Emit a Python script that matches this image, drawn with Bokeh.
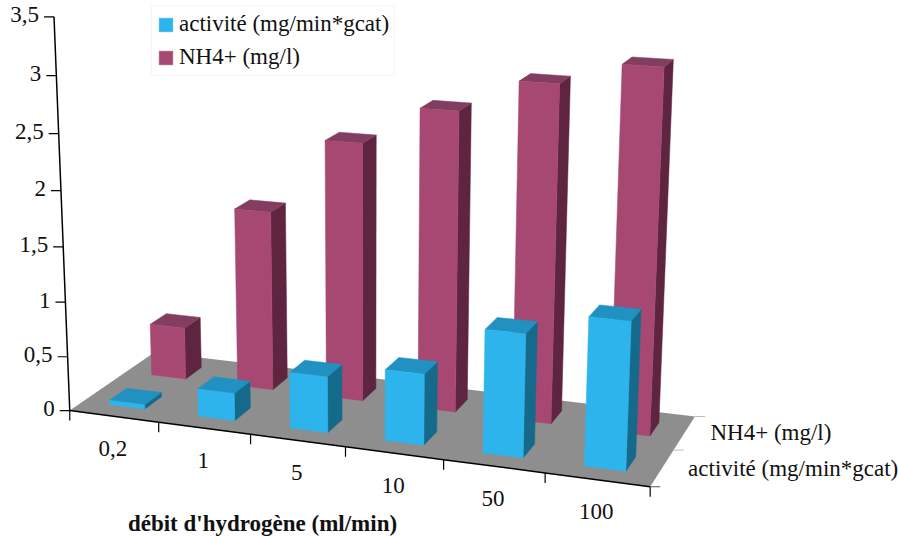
import numpy as np
from bokeh.plotting import figure
from bokeh.models import Range1d, Legend, LegendItem
from bokeh.core.properties import value
from bokeh.embed import file_html
from bokeh.resources import INLINE

categories = ["0,2", "1", "5", "10", "50", "100"]
activite = [0.04, 0.25, 0.505, 0.63, 1.08, 1.28]
nh4 = [0.49, 1.66, 2.35, 2.695, 2.985, 3.18]
series_names = ["activité (mg/min*gcat)", "NH4+ (mg/l)"]
value_ticks = [0, 0.5, 1, 1.5, 2, 2.5, 3, 3.5]
value_labels = ["0", "0,5", "1", "1,5", "2", "2,5", "3", "3,5"]
x_title = "débit d'hydrogène (ml/min)"

FONT = value("Liberation Serif")
SZ = "23px"

# projective camera: floor homography (least squares on reference points)
floor_3d = [(0, 0), (1, 0), (2, 0), (3, 0), (4, 0), (5, 0), (6, 0), (6, 1), (6, 2), (0, 2)]
floor_2d = [(69.5, 409), (158, 421), (250, 435), (345, 447), (443, 460), (545, 472), (650, 486),
            (672, 449), (695, 416), (154, 352)]
A, b = [], []
for (X, Y), (u, v) in zip(floor_3d, floor_2d):
    A.append([X, Y, 1, 0, 0, 0, -u * X, -u * Y]); b.append(u)
    A.append([0, 0, 0, X, Y, 1, -v * X, -v * Y]); b.append(v)
h = np.linalg.lstsq(np.array(A, float), np.array(b, float), rcond=None)[0]
H = np.array([[h[0], h[1], h[2]], [h[3], h[4], h[5]], [h[6], h[7], 1.0]])
VP = np.array([365.0, 7800.0, 1.0])
K = -0.01445


def proj(X, Y, val=0.0):
    p = H @ np.array([X, Y, 1.0]) + val * K * VP
    return p[0] / p[2], p[1] / p[2]


def poly(*pts):
    c = [proj(*q) for q in pts]
    return [q[0] for q in c], [q[1] for q in c]


p = figure(width=898, height=536, x_range=Range1d(0, 898), y_range=Range1d(536, 0),
           output_backend="svg", toolbar_location=None, min_border=0,
           x_axis_location=None, y_axis_location=None)
p.outline_line_color = None
p.grid.visible = False
p.background_fill_color = "white"

# floor
fx, fy = poly((0, 0), (6, 0), (6, 2), (0, 2))
p.patch(fx, fy, fill_color="#8E8E8E", line_color=None)

BAR = 0.2  # half-width of a bar in a unit cell


def bars(vals, depth, front_c, top_c, side_c):
    front = None
    for i, v in enumerate(vals):
        x0, x1 = i + 0.5 - BAR, i + 0.5 + BAR
        y0, y1 = depth + 0.5 - BAR, depth + 0.5 + BAR
        sx, sy = poly((x1, y0, 0), (x1, y1, 0), (x1, y1, v), (x1, y0, v))
        p.patch(sx, sy, fill_color=side_c, line_color=side_c, line_width=0.5)
        tx, ty = poly((x0, y0, v), (x1, y0, v), (x1, y1, v), (x0, y1, v))
        p.patch(tx, ty, fill_color=top_c, line_color=top_c, line_width=0.5)
        ax, ay = poly((x0, y0, 0), (x1, y0, 0), (x1, y0, v), (x0, y0, v))
        r = p.patch(ax, ay, fill_color=front_c, line_color=front_c, line_width=0.5)
        front = front or r
    return front


r_nh4 = bars(nh4, 1, "#A64872", "#823D60", "#5E2440")
r_act = bars(activite, 0, "#2EB4EC", "#2191C1", "#156A8C")

# value axis
axis_pts = [proj(0, 0, t) for t in value_ticks]
p.line([q[0] for q in axis_pts], [q[1] for q in axis_pts], line_color="black", line_width=1.5)
for (qx, qy), lab in zip(axis_pts, value_labels):
    p.segment(qx - 10, qy, qx, qy, line_color="black", line_width=1.2)
    p.text([qx - 15], [qy - 2], text=[lab], text_font=FONT, text_font_size=SZ,
           text_align="right", text_baseline="middle", text_color="#111111")

# category axis
cat_pts = [proj(i, 0) for i in range(len(categories) + 1)]
p.line([q[0] for q in cat_pts], [q[1] for q in cat_pts], line_color="black", line_width=1.5)
for qx, qy in cat_pts:
    p.segment(qx, qy, qx, qy + 10, line_color="black", line_width=1.2)
for i, lab in enumerate(categories):
    qx, qy = proj(i + 0.5, 0)
    p.text([qx - 1], [qy + 32], text=[lab], text_font=FONT, text_font_size=SZ,
           text_align="center", text_baseline="middle", text_color="#111111")

# depth axis
for d in range(3):
    qx, qy = proj(6, d)
    p.segment(qx, qy, qx + 10, qy, line_color="#BBBBBB" if d else "#555555", line_width=1)
for d, name in enumerate(series_names):
    qx, qy = proj(6, d + 0.5)
    p.text([qx + 26], [qy], text=[name], text_font=FONT,
           text_font_size=SZ, text_align="left", text_baseline="middle", text_color="#111111")

p.text([262], [523], text=[x_title], text_font=FONT, text_font_size=SZ, text_font_style="bold",
       text_align="center", text_baseline="middle", text_color="#111111")

legend = Legend(items=[LegendItem(label=series_names[0], renderers=[r_act]),
                       LegendItem(label=series_names[1], renderers=[r_nh4])],
                location=(151, 460), orientation="vertical",
                label_text_font="Liberation Serif", label_text_font_size=SZ,
                label_text_color="#111111", glyph_width=17, glyph_height=17,
                label_standoff=5, spacing=7, padding=5, margin=0,
                border_line_color="#EEEEEE", background_fill_alpha=1)
p.add_layout(legend, "center")

open("out.html", "w").write(file_html(p, INLINE))
